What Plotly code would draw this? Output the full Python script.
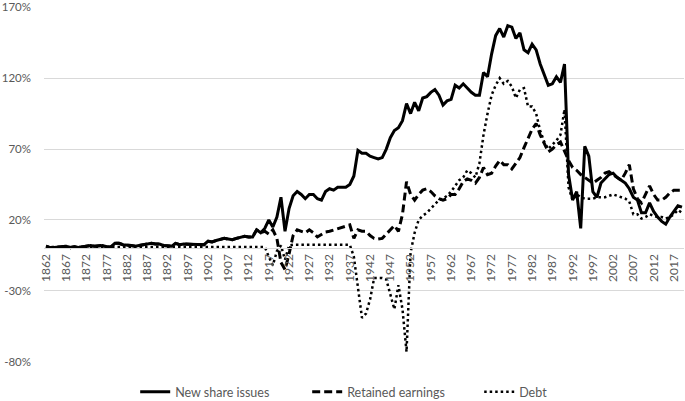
import plotly.graph_objects as go

years = list(range(1862, 2020))

new_share_issues = [
    # 1862-1881
    1.5, 0.5, 0.5, 1, 1.5, 1.5, 0.5, 1, 0.5, 1, 1.5, 2, 1.5, 1.5, 2, 1, 1, 3.5, 3.5, 2.5,
    # 1882-1901
    2.5, 2, 1.5, 2, 3, 3.5, 3.5, 3, 3, 2, 1.5, 1.5, 3.5, 2.5, 3, 3, 3, 2.5, 2.5, 2.5,
    # 1902-1921
    5, 4.5, 5.5, 6, 7, 6.5, 6, 7, 7.5, 8.5, 8, 8, 13, 11, 14, 20, 15, 22, 36, 12,
    # 1922-1941
    28, 37, 40, 38, 35, 38, 38, 35, 34, 40, 42, 41, 43, 43, 43, 45, 51, 69, 67, 67,
    # 1942-1961
    65, 64, 63, 64, 70, 78, 83, 85, 90, 102, 95, 103, 97, 106, 107, 110, 112, 108, 101, 104,
    # 1962-1981
    105, 115, 113, 116, 113, 110, 108, 108, 124, 121, 137, 150, 155, 149, 157, 156, 148, 152, 140, 138,
    # 1982-2001
    144, 140, 130, 122, 115, 116, 121, 117, 130, 52, 34, 40, 14, 72, 65, 40, 36, 46, 49, 52,
    # 2002-2019
    53, 50, 48, 46, 42, 36, 34, 25, 25, 32, 26, 22, 19, 17, 22, 26, 30, 29,
]

retained_earnings = [
    # 1862-1881
    1.5, 0.5, 0.5, 1, 1.5, 1.5, 0.5, 1, 0.5, 1, 1.5, 2, 1.5, 1.5, 2, 1, 1, 3.5, 3.5, 2.5,
    # 1882-1901
    2.5, 2, 1.5, 2, 3, 3.5, 3.5, 3, 3, 2, 1.5, 1.5, 3.5, 2.5, 3, 3, 3, 2.5, 2.5, 2.5,
    # 1902-1921
    5, 4.5, 5.5, 6, 7, 6.5, 6, 7, 7.5, 8.5, 8, 8, 13, 11, 12, 10, 13, 7, -10, -15,
    # 1922-1941
    -4, 9, 13, 12, 11, 13, 11, 8, 10, 11.5, 12, 13, 14, 15, 16, 16.5, 7, 13, 12, 12,
    # 1942-1961
    9, 7, 6.5, 7, 10, 13, 16, 12, 24, 47, 38, 34, 38, 41, 42, 40, 37, 35, 34, 35,
    # 1962-1981
    38, 38, 42, 47, 49, 48, 46, 50, 57, 52, 53, 58, 62, 59, 59, 56, 60, 64, 71, 77,
    # 1982-2001
    84, 88, 80, 74, 68, 70, 73, 75, 68, 62, 57, 55, 52, 50, 48, 46, 48, 50, 53, 54,
    # 2002-2019
    52, 50, 48, 53, 59, 42, 35, 32, 38, 44, 38, 34, 34, 36, 39, 41, 41, 41,
]

debt = [
    # 1862-1881
    1, 1, 1, 1, 1, 1, 1, 1, 1, 1, 1, 1, 1, 1, 1, 1, 1, 1, 1, 1,
    # 1882-1901
    1, 1, 1, 1, 1, 1, 1, 1, 1, 1, 1, 1, 1, 1, 1, 1, 1, 1, 1, 1,
    # 1902-1921
    1, 1, 1, 1, 1, 1, 1, 1, 1, 1, 1, 1, 1, 1, 1, -6, -12, -2, 2, -8,
    # 1922-1941
    2, 2.5, 2.5, 2.5, 2.5, 2.5, 2.5, 2.5, 2.5, 2.5, 2.5, 2.5, 2.5, 2.5, 2.5, 2.5, -6, -27, -49, -46,
    # 1942-1961
    -36, -21, -21, -21, -22, -32, -43, -26, -43, -73, -3, 11, 20, 23, 25, 28, 31, 34, 35, 37,
    # 1962-1981
    40, 44, 48, 50, 55, 53, 50, 60, 80, 95, 108, 115, 120, 116, 118, 114, 106, 112, 113, 100,
    # 1982-2001
    100, 95, 83, 75, 70, 73, 76, 80, 98, 43, 34, 38, 36, 35, 35, 35, 36, 36, 36, 37,
    # 2002-2019
    38, 37, 36, 35, 33, 24, 24, 21, 22, 24, 23, 22, 22, 21, 22, 24, 27, 25,
]

tick_years = list(range(1862, 2020, 5))
y_ticks = [-80, -30, 20, 70, 120, 170]

FONT = "Lato"
GREY = "#595959"
GRID = "#d9d9d9"

fig = go.Figure()
fig.add_trace(go.Scatter(x=years, y=new_share_issues, mode="lines", name="New share issues",
                         line=dict(color="black", width=3, dash="solid")))
fig.add_trace(go.Scatter(x=years, y=retained_earnings, mode="lines", name="Retained earnings",
                         line=dict(color="black", width=3, dash="8px,4px")))
fig.add_trace(go.Scatter(x=years, y=debt, mode="lines", name="Debt",
                         line=dict(color="black", width=2.5, dash="2.5px,3px")))

ymin, ymax = -80.2, 170.2
fig.update_layout(
    width=685, height=401,
    margin=dict(l=44, r=1, t=7, b=39),
    plot_bgcolor="white", paper_bgcolor="white",
    font=dict(family=FONT, size=12, color=GREY),
    showlegend=True,
    legend=dict(orientation="h", xref="container", yref="container", x=0.574, y=0.022,
                xanchor="center", yanchor="middle", font=dict(size=12.5, color=GREY),
                entrywidth=127),
    xaxis=dict(
        range=[1861.5, 2019.5], tickmode="array", tickvals=tick_years,
        ticktext=[str(t) for t in tick_years], tickangle=-90,
        showgrid=False, zeroline=False, showline=True, linecolor=GRID, linewidth=1,
        anchor="free", position=(0 - ymin) / (ymax - ymin), ticks="",
        tickfont=dict(size=12, color=GREY), automargin=False, ticklabeloverflow="allow",
    ),
    yaxis=dict(
        range=[ymin, ymax], tickmode="array", tickvals=y_ticks,
        ticktext=[f"{v}%" for v in y_ticks], showgrid=True, gridcolor=GRID, gridwidth=1,
        zeroline=False, showline=False, ticks="", ticklabelstandoff=12,
        tickfont=dict(size=11.5, color=GREY), automargin=False, ticklabeloverflow="allow",
    ),
)

fig.write_html(
    "out.html",
    config={"displayModeBar": False},
    post_script="document.body.style.margin='0';document.body.style.overflow='hidden';",
)
